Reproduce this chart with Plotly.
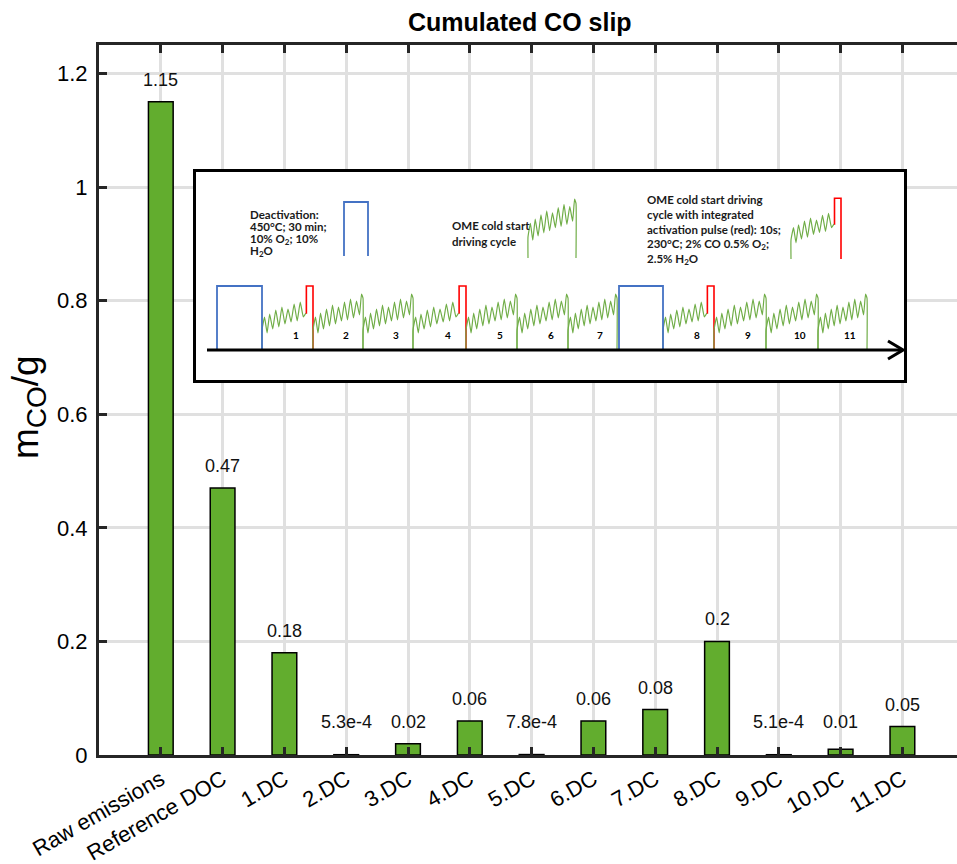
import plotly.graph_objects as go

# ---------------- main chart data ----------------
CATEGORIES = ["Raw emissions", "Reference DOC", "1.DC", "2.DC", "3.DC", "4.DC",
              "5.DC", "6.DC", "7.DC", "8.DC", "9.DC", "10.DC", "11.DC"]
CO_SLIP = [1.15, 0.47, 0.18, 5.3e-4, 0.02, 0.06, 7.8e-4, 0.06, 0.08, 0.2, 5.1e-4, 0.01, 0.05]
BAR_LABELS = ["1.15", "0.47", "0.18", "5.3e-4", "0.02", "0.06", "7.8e-4",
              "0.06", "0.08", "0.2", "5.1e-4", "0.01", "0.05"]
Y_TICKS = [0, 0.2, 0.4, 0.6, 0.8, 1.0, 1.2]
Y_TICK_TEXT = ["0", "0.2", "0.4", "0.6", "0.8", "1", "1.2"]

# ---------------- inset schematic (drawn in inset pixel coordinates) ----------------
CYCLE_NAMES = ["1", "2", "3", "4", "5", "6", "7", "8", "9", "10", "11"]
CYCLE_X0 = [262, 313, 363, 413, 466, 517, 568, 663, 714, 766, 818]
CYCLE_X1 = [313, 363, 413, 466, 517, 568, 617, 714, 766, 818, 867]
CYCLE_PULSE = [1, 0, 0, 1, 0, 0, 0, 1, 0, 0, 0]
DEACT_X0 = [217, 619]
DEACT_X1 = [262, 663]
# hand-drawn driving-cycle glyph (fraction of cycle width, height in px)
WIG_U = [0.00, 0.00, 0.05, 0.10, 0.15, 0.21, 0.27, 0.33, 0.39, 0.45, 0.51,
         0.57, 0.63, 0.69, 0.75, 0.81, 0.87, 0.93, 0.97, 1.00, 1.00]
WIG_H = [0, 20, 33, 17, 37, 21, 41, 24, 45, 26, 43,
         29, 48, 30, 51, 32, 49, 35, 56, 52, 0]
PUL_U = [0.00, 0.00, 0.05, 0.10, 0.15, 0.21, 0.27, 0.33, 0.39,
         0.45, 0.51, 0.57, 0.63, 0.69, 0.75, 0.81, 0.86]
PUL_H = [0, 20, 33, 17, 36, 21, 40, 23, 43,
         26, 41, 28, 46, 29, 48, 33, 37]
RED_U = [0.86, 0.87, 0.87, 1.0, 1.0]
RED_H = [37, 37, 64, 64, 0]

GREEN_BAR = "#62ad2e"
AX = "#262626"
GRID = "#e0e0e0"
G_LINE = "#70ad47"
B_LINE = "#4472c4"
R_LINE = "#ff0000"
FONT = "Liberation Sans"
IFONT = "Lato"

W, H = 957, 864
L, R, T, B = 99, 0, 45, 109
PW = W - L - R
PH = H - T - B


def px_x(p):
    return (p - L) / PW


def px_y(p):
    return (H - B - p) / PH


fig = go.Figure()

fig.add_trace(go.Bar(
    x=CATEGORIES, y=CO_SLIP, width=0.4,
    marker=dict(color=GREEN_BAR, line=dict(color="black", width=1.5)),
    hoverinfo="skip", showlegend=False,
))

annotations = []
for cat, v, lab in zip(CATEGORIES, CO_SLIP, BAR_LABELS):
    annotations.append(dict(x=cat, y=max(v, 0.0195), text=lab, showarrow=False,
                            yshift=22, xanchor="center", yanchor="middle",
                            font=dict(family=FONT, size=18, color="#111111")))

# ---- inset traces ----
BASE = 350


def add_line(xs, ys, color, width, smooth=False):
    line = dict(color=color, width=width)
    if smooth:
        line.update(shape="spline", smoothing=0.35)
    fig.add_trace(go.Scatter(x=xs, y=ys, mode="lines", xaxis="x2", yaxis="y2",
                             line=line, hoverinfo="skip", showlegend=False))


def draw_cycle(x0, x1, base, scale, pulse):
    w = x1 - x0
    if pulse:
        add_line([x0 + u * w for u in PUL_U], [base - h * scale for h in PUL_H], G_LINE, 1.2, True)
        add_line([x0 + u * w for u in RED_U], [base - h * scale for h in RED_H], R_LINE, 1.6)
    else:
        add_line([x0 + u * w for u in WIG_U], [base - h * scale for h in WIG_H], G_LINE, 1.2, True)


for x0, x1, p, name in zip(CYCLE_X0, CYCLE_X1, CYCLE_PULSE, CYCLE_NAMES):
    draw_cycle(x0, x1, BASE, 1.0, p)
    annotations.append(dict(x=x0 + 0.66 * (x1 - x0), y=335, xref="x2", yref="y2",
                            text="<b>%s</b>" % name, showarrow=False,
                            font=dict(family=IFONT, size=10, color="black")))

for x0, x1 in zip(DEACT_X0, DEACT_X1):
    add_line([x0, x0, x1, x1], [BASE, 286, 286, BASE], B_LINE, 1.8)

# timeline arrow
add_line([207, 902], [BASE, BASE], "black", 3)
add_line([888, 903, 888], [341, BASE, 359], "black", 3)

# legend glyphs
add_line([344, 344, 368, 368], [256, 202, 202, 256], B_LINE, 1.8)
draw_cycle(528, 576, 258, 1.05, 0)
draw_cycle(791, 841, 259, 0.95, 1)

inset_text = [
    (248, 214, "Deactivation:"),
    (248, 226.5, "450°C; 30 min;"),
    (248, 239, "10% O<sub>2</sub>; 10%"),
    (248, 251, "H<sub>2</sub>O"),
    (450, 225, "OME cold start"),
    (450, 241, "driving cycle"),
    (645, 199, "OME cold start driving"),
    (645, 214, "cycle with integrated"),
    (645, 229, "activation pulse (red): 10s;"),
    (645, 244, "230°C; 2% CO 0.5% O<sub>2</sub>;"),
    (645, 259.5, "2.5% H<sub>2</sub>O"),
]
for x, y, t in inset_text:
    annotations.append(dict(x=x, y=y, xref="x2", yref="y2", text="<b>%s</b>" % t,
                            showarrow=False, xanchor="left", yanchor="middle",
                            font=dict(family=IFONT, size=11.5, color="#1a1a1a")))

# title and y-axis title
annotations.append(dict(x=px_x(520), y=px_y(22), xref="paper", yref="paper",
                        text="<b>Cumulated CO slip</b>", showarrow=False,
                        xanchor="center", yanchor="middle",
                        font=dict(family=FONT, size=25, color="black")))
annotations.append(dict(x=px_x(28), y=px_y(407), xref="paper", yref="paper",
                        text='m<sub><span style="font-size:28px">CO</span></sub>/g',
                        textangle=-90, showarrow=False,
                        xanchor="center", yanchor="middle",
                        font=dict(family=FONT, size=37, color="black")))

fig.update_layout(
    width=W, height=H,
    margin=dict(l=L, r=R, t=T, b=B, autoexpand=False),
    paper_bgcolor="white", plot_bgcolor="white",
    bargap=0.6,
    annotations=annotations,
    xaxis=dict(
        type="category", categoryorder="array", categoryarray=CATEGORIES,
        range=[-1, -1 + PW / 61.8],
        showgrid=True, gridcolor=GRID, gridwidth=3,
        showline=True, linecolor=AX, linewidth=3, mirror="ticks",
        ticks="inside", ticklen=8, tickwidth=3, tickcolor=AX,
        tickangle=-30, tickfont=dict(family=FONT, size=22, color="black"),
        ticklabelstandoff=0,
        zeroline=False, fixedrange=True,
    ),
    yaxis=dict(
        range=[0, 1.25], tickvals=Y_TICKS, ticktext=Y_TICK_TEXT,
        showgrid=True, gridcolor=GRID, gridwidth=3,
        showline=True, linecolor=AX, linewidth=3, mirror=False,
        ticks="inside", ticklen=8, tickwidth=3, tickcolor=AX,
        tickfont=dict(family=FONT, size=22, color="black"),
        ticklabelstandoff=4,
        zeroline=False, fixedrange=True,
    ),
    xaxis2=dict(
        domain=[px_x(196), px_x(904)], range=[196, 904], anchor="y2",
        showgrid=False, zeroline=False, showticklabels=False, ticks="",
        showline=True, linecolor="black", linewidth=2.5, mirror=True, fixedrange=True,
    ),
    yaxis2=dict(
        domain=[px_y(380), px_y(172)], range=[380, 172], anchor="x2",
        showgrid=False, zeroline=False, showticklabels=False, ticks="",
        showline=True, linecolor="black", linewidth=2.5, mirror=True, fixedrange=True,
    ),
)

fig.write_html("out.html", config={"displayModeBar": False})
